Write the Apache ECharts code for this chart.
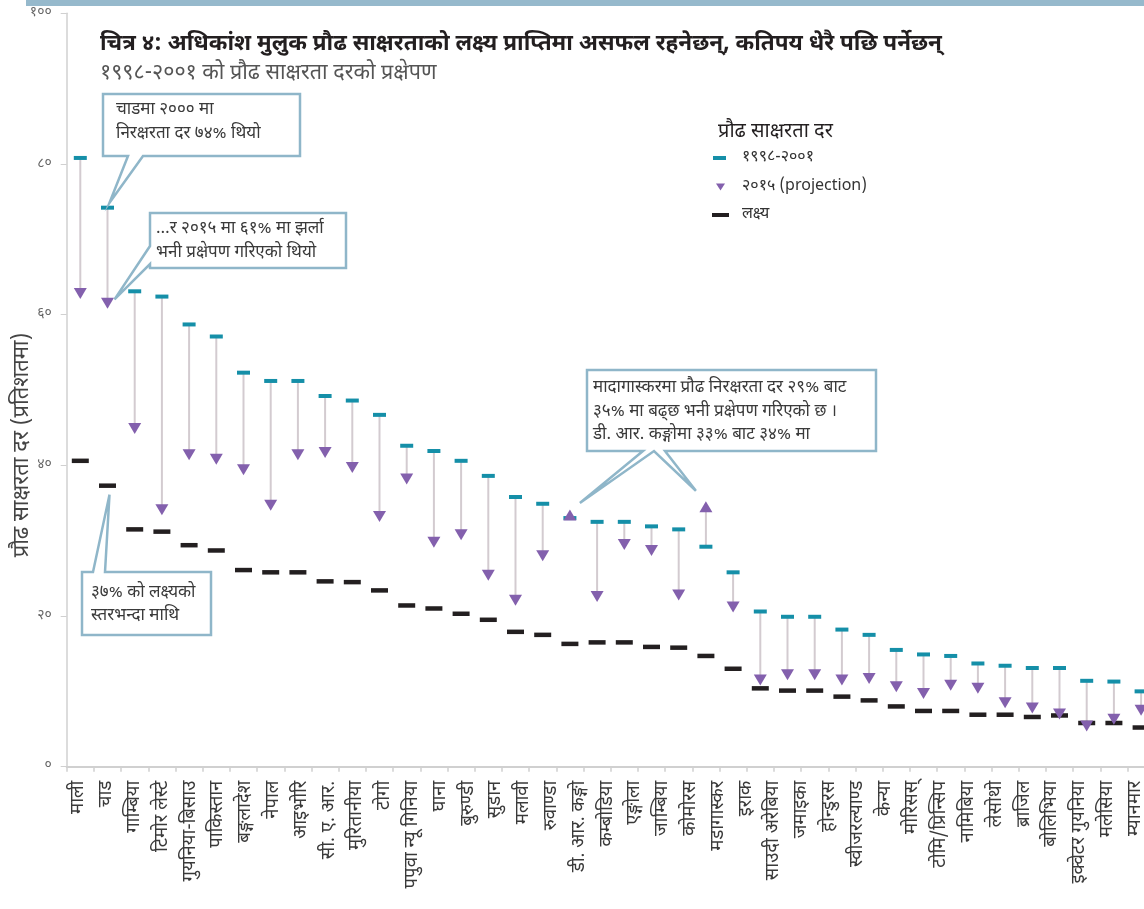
<!DOCTYPE html>
<html><head><meta charset="utf-8">
<script src="https://cdn.jsdelivr.net/npm/echarts@6/dist/echarts.min.js"></script>
<style>html,body{margin:0;padding:0;background:#fff}#c{width:1144px;height:909px}</style>
</head><body><div id="c"></div>
<script>
// ---------- data ----------
const countries = ['माली','चाड','गाम्बिया','टिमोर लेस्टे','गुयनिया-बिसाउ','पाकिस्तान','बङ्गलादेश','नेपाल','आइभोरि','सी. ए. आर.','मुरितानीया','टोगो','पपुवा न्यू गिनिया','घाना','बुरुण्डी','सुडान','मलावी','रुवाण्डा','डी. आर. कङ्गो','कम्बोडिया','एङ्गोला','जाम्बिया','कोमोरस','मडागास्कर','इराक','साउदी अरेबिया','जमाइका','होन्डुरस','स्वीजरल्याण्ड','केन्या','मोरिसस्','टोमि/प्रिन्सिप','नामिबिया','लेसोथो','ब्राजिल','बोलिभिया','इक्वेटर गुयनिया','मलेसिया','म्यानमार'];
const croppedColumn = ''; // 40th column, label cut off at the right edge in the source
const rate1998 = [80.8,74.2,63.1,62.4,58.7,57.1,52.3,51.2,51.2,49.2,48.6,46.7,42.6,41.9,40.6,38.6,35.8,34.9,33.0,32.5,32.5,31.9,31.5,29.2,25.8,20.6,19.9,19.9,18.2,17.5,15.5,14.9,14.7,13.7,13.4,13.1,13.1,11.4,11.3,10.0];
const proj2015 = [62.8,61.5,44.9,34.1,41.4,40.8,39.4,34.7,41.4,41.7,39.7,33.2,38.2,29.8,30.8,25.4,22.1,28.0,33.4,22.6,29.5,28.7,22.8,34.5,21.2,11.5,12.2,12.2,11.5,11.7,10.6,9.7,10.8,10.4,8.5,7.8,7.0,5.4,6.3,7.5];
const target = [40.6,37.3,31.5,31.2,29.4,28.7,26.1,25.8,25.8,24.6,24.5,23.4,21.4,21.0,20.3,19.5,17.9,17.5,16.3,16.5,16.5,15.9,15.8,14.7,13.0,10.4,10.1,10.1,9.3,8.8,8.0,7.4,7.4,6.9,6.9,6.6,6.8,5.8,5.8,5.2];
const yTickLabels = ['०','२०','४०','६०','८०','१००'];
const seriesNames = ['१९९८-२००१','२०१५ (projection)','लक्ष्य'];
const titleText = 'चित्र ४: अधिकांश मुलुक प्रौढ साक्षरताको लक्ष्य प्राप्तिमा असफल रहनेछन्, कतिपय धेरै पछि पर्नेछन्';
const subtitleText = '१९९८-२००१ को प्रौढ साक्षरता दरको प्रक्षेपण';
const legendTitle = 'प्रौढ साक्षरता दर';
const yAxisName = 'प्रौढ साक्षरता दर (प्रतिशतमा)';
const note1 = ['चाडमा २००० मा','निरक्षरता दर ७४% थियो'];
const note2 = ['…र २०१५ मा ६१% मा झर्ला','भनी प्रक्षेपण गरिएको थियो'];
const note3 = ['३७% को लक्ष्यको','स्तरभन्दा माथि'];
const note4 = ['मादागास्करमा प्रौढ निरक्षरता दर २९% बाट','३५% मा बढ्छ भनी प्रक्षेपण गरिएको छ ।','डी. आर. कङ्गोमा ३३% बाट ३४% मा'];

// ---------- chart ----------
const FONT = "'Noto Sans Devanagari','Noto Sans','DejaVu Sans',sans-serif";
const plotCats = countries.concat([croppedColumn]);
const GL = 66.7, GT = 13.3, GH = 753.4, CW = 27.2, LW = 27.8;
const TEAL = '#158fa8', PURPLE = '#8360ad', BLACK = '#231f20', BORDER = '#8fb6c9';

const chart = echarts.init(document.getElementById('c'), null, {renderer: 'canvas'});

const option = {
  animation: false,
  backgroundColor: '#fff',
  title: [
    {text: titleText, subtext: subtitleText, left: 95, top: 29, itemGap: 7,
     textStyle: {fontSize: 22.5, fontWeight: 'bold', color: BLACK, fontFamily: FONT},
     subtextStyle: {fontSize: 21.5, color: '#555', fontFamily: FONT}},
    {text: legendTitle, left: 713, top: 118,
     textStyle: {fontSize: 20, fontWeight: 'normal', color: BLACK, fontFamily: FONT}}
  ],
  legend: {
    orient: 'vertical', left: 712, top: 150, padding: 0, itemWidth: 25, itemHeight: 10, itemGap: 12.5,
    selectedMode: false,
    textStyle: {fontSize: 16, color: '#333', fontFamily: FONT},
    data: [
      {name: seriesNames[0], icon: 'path://M0,0L0,0M25,10L25,10M1,3h13v4h-13z'},
      {name: seriesNames[1], icon: 'path://M0,0L0,0M25,10L25,10M4,2L13,2L8.5,9z'},
      {name: seriesNames[2], icon: 'path://M0,0L0,0M25,10L25,10M0,3h17v4h-17z'}
    ]
  },
  grid: [
    {left: GL, top: GT, width: plotCats.length * CW, height: GH, outerBoundsMode: 'none', containLabel: false},
    {left: 80 - LW / 2, top: GT, width: countries.length * LW, height: GH, outerBoundsMode: 'none', containLabel: false}
  ],
  xAxis: [
    {type: 'category', gridIndex: 0, data: plotCats,
     axisLine: {lineStyle: {color: '#d0d0d0', width: 2}},
     axisTick: {show: true, interval: 0, length: 5, lineStyle: {color: '#d0d0d0', width: 1.5}},
     axisLabel: {show: false, interval: 0}},
    {type: 'category', gridIndex: 1, data: countries,
     axisLine: {show: false}, axisTick: {show: false},
     axisLabel: {rotate: 90, margin: 14, fontSize: 18.5, color: '#3a3a3a', interval: 0, fontFamily: FONT}}
  ],
  yAxis: [
    {type: 'value', gridIndex: 0, min: 0, max: 100, interval: 20,
     name: yAxisName, nameLocation: 'middle', nameGap: 32, nameRotate: 90, nameMoveOverlap: false,
     nameTextStyle: {fontSize: 22, color: '#444', fontFamily: FONT, padding: [0, 110, 0, 0]},
     axisLine: {show: true, lineStyle: {color: '#d0d0d0', width: 1.5}},
     axisTick: {show: true, length: 6, lineStyle: {color: '#d0d0d0'}},
     splitLine: {show: false},
     axisLabel: {margin: 15, fontSize: 14, color: '#666', fontFamily: FONT,
                 formatter: v => yTickLabels[Math.round(v / 20)]}},
    {type: 'value', gridIndex: 1, show: false, min: 0, max: 100}
  ],
  series: [
    {type: 'custom', name: 'connector', xAxisIndex: 0, yAxisIndex: 0, silent: true, z: 1,
     data: plotCats.map((c, i) => [i, rate1998[i], proj2015[i]]),
     encode: {x: 0, y: [1, 2]},
     renderItem: (params, api) => {
       const i = api.value(0);
       const a = api.coord([i, api.value(1)]);
       const b = api.coord([i, api.value(2)]);
       return {type: 'line', shape: {x1: a[0], y1: a[1], x2: b[0], y2: b[1]},
               style: {stroke: '#d3cbd0', lineWidth: 2}};
     }},
    {type: 'scatter', name: seriesNames[0], z: 3, symbol: 'rect', symbolSize: [13, 4],
     itemStyle: {color: TEAL, opacity: 1},
     data: rate1998.map((v, i) => [i, v])},
    {type: 'scatter', name: seriesNames[2], z: 3, symbol: 'rect', symbolSize: [17, 4.5],
     itemStyle: {color: BLACK, opacity: 1},
     data: target.map((v, i) => [i, v])},
    {type: 'scatter', name: seriesNames[1], z: 4, symbol: 'triangle', symbolSize: [13, 11],
     itemStyle: {color: PURPLE, opacity: 1},
     data: proj2015.map((v, i) => ({value: [i, v], symbolRotate: v < rate1998[i] ? 180 : 0}))}
  ]
};
chart.setOption(option);

// ---------- annotations (pointer tips anchored to data) ----------
const px = (i, v) => chart.convertToPixel({gridIndex: 0}, [i, v]);
const idxChad = 1, idxDRC = 18, idxMad = 23;
const t1 = px(idxChad, rate1998[idxChad]); t1[0] += 2; t1[1] -= 5;
const t2 = px(idxChad, proj2015[idxChad]); t2[0] += 7; t2[1] -= 4;
const t3 = px(idxChad, target[idxChad]); t3[0] += 2; t3[1] += 9;
const t4a = px(idxDRC, proj2015[idxDRC]); t4a[0] += 10; t4a[1] -= 12;
const t4b = px(idxMad, proj2015[idxMad]); t4b[0] -= 10; t4b[1] -= 16;

const boxStyle = {fill: '#fff', stroke: BORDER, lineWidth: 2.5, lineJoin: 'miter'};
function txt(lines, x, y0, lh) {
  return lines.map((s, k) => ({type: 'text', z: 20, style: {text: s, x: x, y: y0 + k * lh,
    verticalAlign: 'middle', fontSize: 17, fontFamily: FONT, fill: '#3a3a3a'}}));
}
const graphics = [
  {type: 'rect', z: 20, shape: {x: 26, y: 0, width: 1118, height: 6}, style: {fill: '#96b9cc'}},
  {type: 'polygon', z: 19, shape: {points: [[103,94],[300,94],[300,156],[143,156],t1,[128,156],[103,156]]}, style: boxStyle},
  {type: 'polygon', z: 19, shape: {points: [[150,213],[346,213],[346,268],[150,268],[150,264],t2,[150,246]]}, style: boxStyle},
  {type: 'polygon', z: 19, shape: {points: [[82,572],[93,572],t3,[105,572],[211,572],[211,635],[82,635]]}, style: boxStyle},
  {type: 'polygon', z: 19, shape: {points: [[587,370],[876,370],[876,451],[665,451],t4b,[654,451],t4a,[643,451],[587,451]]}, style: boxStyle}
].concat(txt(note1, 116, 111, 24), txt(note2, 156, 230, 24), txt(note3, 91, 594, 23), txt(note4, 593, 389, 23.5));

chart.setOption({graphic: graphics});
</script></body></html>
